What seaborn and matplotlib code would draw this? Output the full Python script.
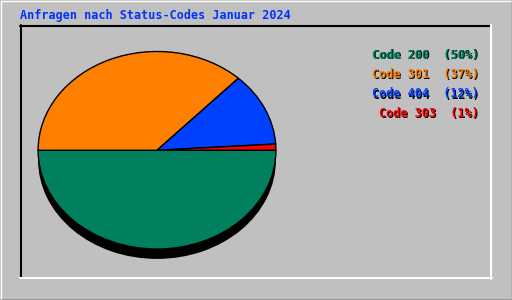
import matplotlib
matplotlib.use("Agg")
import matplotlib.pyplot as plt
import seaborn as sns
from matplotlib.lines import Line2D
from matplotlib.transforms import offset_copy

sns.set_theme(style="white")
plt.rcParams['font.family'] = ['DejaVu Sans Mono', 'DejaVu Sans']

title = "Anfragen nach Status-Codes Januar 2024"
codes = ["Code 200", "Code 301", "Code 404", "Code 303"]
values = [50, 37, 12, 1]
pct_labels = ["(50%)", "(37%)", "(12%)", "(1%)"]
colors = ["#00805F", "#FF8000", "#0040FF", "#FF0000"]

W, H = 512, 300
bg = "#C0C0C0"
fig = plt.figure(figsize=(W / 100, H / 100), dpi=100, facecolor=bg)

def fx(x):
    return x / W

def fy(y):
    return 1 - y / H

# outer bevel
fig.add_artist(Line2D([fx(0.5), fx(511)], [fy(0.5), fy(0.5)], color="white", lw=1))
fig.add_artist(Line2D([fx(0.5), fx(0.5)], [fy(0.5), fy(299)], color="white", lw=1))
fig.add_artist(Line2D([fx(0), fx(512)], [fy(299.5), fy(299.5)], color="black", lw=1))
fig.add_artist(Line2D([fx(511.5), fx(511.5)], [fy(0), fy(300)], color="#808080", lw=1))
# inner sunken panel
fig.add_artist(Line2D([fx(20), fx(491)], [fy(25.5), fy(25.5)], color="black", lw=1.5))
fig.add_artist(Line2D([fx(20.5), fx(20.5)], [fy(25), fy(278)], color="black", lw=1.5))
fig.add_artist(Line2D([fx(20), fx(491.5)], [fy(278), fy(278)], color="white", lw=1.5))
fig.add_artist(Line2D([fx(491), fx(491)], [fy(25), fy(278.5)], color="white", lw=1.5))

# pie axes: ellipse bbox x 37.5..276.5, y 51..249 plus shadow below
rx_px, ry_px = 119.5, 99.0
cx, cy = 157.0, 150.0
shadow = 0.10
ylo = -1 - shadow - 0.05
left = cx - rx_px
width = 2 * rx_px
height = ry_px * (1 - ylo)
bottom = H - (cy + ry_px * (-ylo))
ax = fig.add_axes([left / W, bottom / H, width / W, height / H])
ax.set_facecolor("none")

ax.pie([1], colors=["black"], center=(0, -shadow), radius=1,
       wedgeprops=dict(linewidth=0))
ax.pie(values, colors=colors, startangle=0, counterclock=False, radius=1,
       wedgeprops=dict(edgecolor="black", linewidth=1.0))
ax.set_aspect("auto")
ax.set_xlim(-1.005, 1.005)
ax.set_ylim(ylo, 1.005)
ax.axis("off")

fs = 8.5
# title
fig.text(fx(20), fy(16), title, color="#0033FF", fontsize=fs,
         fontweight="bold", ha="left", va="center")

# legend
ys = [55, 74.5, 94, 113.5]
for code, pct, col, y in zip(codes, pct_labels, colors, ys):
    s = f"{code}  {pct}"
    sh = offset_copy(fig.transFigure, fig=fig, x=1, y=-1, units="dots")
    fig.text(fx(479), fy(y), s, color="black", fontsize=fs, fontweight="bold",
             ha="right", va="center", transform=sh)
    fig.text(fx(479), fy(y), s, color=col, fontsize=fs, fontweight="bold",
             ha="right", va="center")

fig.savefig("out.png", dpi=100, facecolor=bg)
